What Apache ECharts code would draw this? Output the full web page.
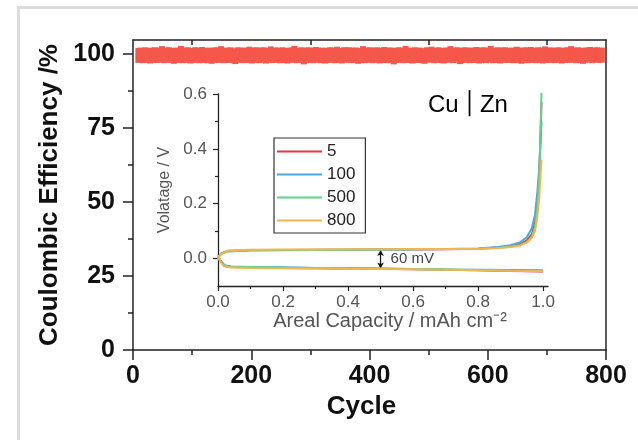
<!DOCTYPE html>
<html><head><meta charset="utf-8">
<script src="https://cdn.jsdelivr.net/npm/echarts@6/dist/echarts.min.js"></script>
<style>html,body{margin:0;padding:0;background:#fff}#c{width:638px;height:440px}</style>
</head><body><div id="c"></div>
<script>
// ---------- main panel data: Coulombic efficiency (%) sampled every 4 cycles from cycle 9 ----------
const ceCycleStart = 9;
const ceCycleStep = 4;
const ceValues = [
  99.5, 99.6, 99.4, 99.7, 99.5, 99.3, 99.6, 99.7, 99.5, 99.6, 100.1, 99.4, 99.6, 99.7, 99.5, 99.2, 99.6, 99.5, 100.2, 99.4,
  99.6, 99.7, 99.3, 99.5, 99.7, 99.6, 99.4, 99.8, 99.5, 99.4, 99.6, 99.2, 99.6, 99.7, 99.5, 100.1, 99.4, 99.6, 99.5, 99.7,
  99.4, 99.1, 99.7, 99.6, 99.4, 99.6, 99.5, 99.9, 99.3, 99.6, 99.7, 99.4, 99.6, 99.7, 99.3, 99.5, 100.0, 99.5, 99.6, 99.6,
  99.4, 99.7, 99.5, 99.3, 99.6, 99.6, 100.2, 99.4, 99.5, 99.7, 99.0, 99.6, 99.7, 99.5, 99.4, 99.8, 99.6, 99.4, 99.6, 99.3,
  99.5, 99.7, 99.6, 99.4, 99.9, 99.5, 99.3, 99.7, 99.6, 99.7, 99.4, 99.6, 99.6, 99.2, 99.5, 100.1, 99.4, 99.6, 99.7, 99.4,
  99.6, 99.7, 99.3, 99.5, 99.8, 99.4, 99.6, 99.6, 99.0, 99.5, 99.7, 99.6, 99.4, 100.2, 99.5, 99.6, 99.3, 99.7, 99.5, 99.6,
  99.4, 99.2, 99.7, 99.6, 99.9, 99.4, 99.5, 99.7, 99.5, 99.3, 99.6, 99.6, 100.1, 99.4, 99.6, 99.7, 99.1, 99.5, 99.7, 99.6,
  99.4, 99.6, 99.5, 99.8, 99.3, 99.6, 99.7, 99.4, 99.6, 100.2, 99.4, 99.5, 99.7, 99.3, 99.6, 99.7, 99.5, 99.5, 99.6, 99.4,
  99.9, 99.6, 99.2, 99.6, 99.7, 99.4, 99.8, 99.5, 99.4, 99.7, 99.6, 99.3, 100.0, 99.5, 99.6, 99.6, 99.4, 99.6, 99.7, 99.3,
  99.5, 99.7, 99.5, 100.1, 99.6, 99.4, 99.7, 99.5, 99.2, 99.6, 99.6, 99.8, 99.4, 99.6, 99.7, 99.5, 99.6
];
const mainXTopTicks = [100, 300, 500, 700];
const mainYTicks = [0, 25, 50, 75, 100];
const mainYMinorTicks = [12.5, 37.5, 62.5, 87.5];

// ---------- inset data: voltage profiles (V) vs areal capacity (mAh cm-2) ----------
const insetCycles = ['5', '100', '500', '800'];
const plateCap = [0, 0.01, 0.02, 0.04, 0.1, 0.2, 0.3, 0.4, 0.5, 0.6, 0.7, 0.8, 0.9, 1.0];
const stripCap = [0, 0.01, 0.03, 0.1, 0.2, 0.3, 0.4, 0.5, 0.6, 0.7, 0.8, 0.86, 0.9, 0.93, 0.95, 0.965, 0.975, 0.982, 0.988, 0.992, 0.995];
const plate5   = [0.004, -0.012, -0.026, -0.031, -0.032, -0.034, -0.035, -0.036, -0.037, -0.039, -0.041, -0.043, -0.045, -0.047];
const plate100 = [0.006, -0.010, -0.024, -0.029, -0.031, -0.032, -0.034, -0.035, -0.036, -0.038, -0.040, -0.041, -0.042, -0.043];
const plate500 = [0.005, -0.014, -0.027, -0.030, -0.031, -0.033, -0.034, -0.036, -0.037, -0.038, -0.040, -0.042, -0.044, -0.045];
const plate800 = [0.005, -0.016, -0.029, -0.033, -0.034, -0.035, -0.036, -0.037, -0.038, -0.039, -0.041, -0.043, -0.044, -0.046];
const strip5   = [0.004, 0.018, 0.028, 0.031, 0.031, 0.032, 0.032, 0.033, 0.033, 0.034, 0.036, 0.040, 0.045, 0.053, 0.066, 0.088, 0.13, 0.20, 0.31, 0.45, 0.57];
const strip100 = [0.006, 0.019, 0.027, 0.030, 0.031, 0.031, 0.032, 0.033, 0.034, 0.035, 0.037, 0.042, 0.049, 0.060, 0.078, 0.11, 0.16, 0.24, 0.33, 0.42, 0.50];
const strip500 = [0.005, 0.017, 0.026, 0.029, 0.030, 0.031, 0.032, 0.033, 0.034, 0.035, 0.036, 0.039, 0.043, 0.050, 0.061, 0.080, 0.115, 0.18, 0.29, 0.46, 0.605];
const strip800 = [0.005, 0.016, 0.029, 0.032, 0.033, 0.033, 0.034, 0.034, 0.035, 0.035, 0.036, 0.038, 0.042, 0.048, 0.058, 0.075, 0.10, 0.15, 0.22, 0.30, 0.36];
const insetXTicks = [0, 0.2, 0.4, 0.6, 0.8, 1.0];
const insetXMinor = [0.1, 0.3, 0.5, 0.7, 0.9];
const insetYTicks = [0, 0.2, 0.4, 0.6];
const insetYMinor = [0.1, 0.3, 0.5];
const overpotentialTop = 0.031, overpotentialBottom = -0.036, overpotentialAt = 0.5;

// ---------- build ----------
const FONT = 'Liberation Sans, Arial, sans-serif';
const ceData = ceValues.map((v, i) => [ceCycleStart + i * ceCycleStep, v]);
function profile(plateV, stripV) {
  const d = [];
  for (let i = plateCap.length - 1; i >= 0; i--) d.push([plateCap[i], plateV[i]]);
  for (let i = 1; i < stripCap.length; i++) d.push([stripCap[i], stripV[i]]);
  return d;
}
const profiles = [profile(plate5, strip5), profile(plate100, strip100), profile(plate500, strip500), profile(plate800, strip800)];
const insetColors = ['#e8343a', '#4aa8dc', '#63d08c', '#f0b650'];

const axisDark = { onZero: false, lineStyle: { color: '#222', width: 1.5 } };
const insetLine = { onZero: false, lineStyle: { color: '#222', width: 1.3 } };
const mainLabel = { color: '#111', fontSize: 25, fontWeight: 'bold', fontFamily: FONT };
const insetLabel = { color: '#555', fontSize: 17, fontFamily: FONT };

const chart = echarts.init(document.getElementById('c'), null, { renderer: 'canvas' });
const insetSeries = insetCycles.map((name, k) => {
  const s = {
    name: name, type: 'line', xAxisIndex: 2, yAxisIndex: 3, data: profiles[k],
    showSymbol: false, symbol: 'none', lineStyle: { width: 2, color: insetColors[k] },
    itemStyle: { color: insetColors[k] }, z: 5 + k, animation: false
  };
  if (k === insetCycles.length - 1) {
    s.markLine = {
      silent: true, symbol: ['arrow', 'arrow'], symbolSize: [5, 6],
      lineStyle: { color: '#111', width: 1.2, type: 'solid' }, label: { show: false },
      data: [[{ coord: [overpotentialAt, overpotentialTop] }, { coord: [overpotentialAt, overpotentialBottom] }]]
    };
    s.markPoint = {
      silent: true, symbol: 'circle', symbolSize: 0.1,
      label: { show: true, position: 'right', distance: 10, formatter: '60 mV', color: '#444', fontSize: 15, fontFamily: FONT },
      data: [{ coord: [overpotentialAt, (overpotentialTop + overpotentialBottom) / 2] }]
    };
  }
  return s;
});

chart.setOption({
  animation: false,
  backgroundColor: '#fff',
  textStyle: { fontFamily: FONT },
  grid: [
    { left: 133, top: 40, right: 32, bottom: 90 },
    { left: 218, top: 94, width: 330, height: 192 }
  ],
  xAxis: [
    { type: 'value', gridIndex: 0, position: 'bottom', min: 0, max: 800, interval: 200,
      axisLine: axisDark, splitLine: { show: false },
      axisTick: { show: true, length: 10, lineStyle: { color: '#222', width: 1.5 } },
      minorTick: { show: true, splitNumber: 2, length: 5, lineStyle: { color: '#222', width: 1.5 } },
      axisLabel: Object.assign({ margin: 14 }, mainLabel),
      name: 'Cycle', nameLocation: 'middle', nameGap: 42,
      nameTextStyle: { color: '#111', fontSize: 26, fontWeight: 'bold', fontFamily: FONT, padding: [0, 16, 0, 0] } },
    { type: 'value', gridIndex: 0, position: 'top', min: 0, max: 800,
      axisLine: axisDark, splitLine: { show: false }, axisLabel: { show: false },
      axisTick: { show: true, inside: true, length: 5, customValues: mainXTopTicks, lineStyle: { color: '#222', width: 1.5 } } },
    { type: 'value', gridIndex: 1, position: 'bottom', min: 0, max: 1.015,
      axisLine: insetLine, splitLine: { show: false },
      axisTick: { show: true, length: 5, customValues: insetXTicks, lineStyle: { color: '#222', width: 1.2 } },
      axisLabel: Object.assign({ margin: 8, customValues: insetXTicks, formatter: v => v.toFixed(1) }, insetLabel),
      name: 'Areal Capacity / mAh cm⁻²', nameLocation: 'middle', nameGap: 23,
      nameTextStyle: { color: '#555', fontSize: 20, fontFamily: FONT, padding: [0, 0, 0, 14] } },
    { type: 'value', gridIndex: 1, position: 'bottom', min: 0, max: 1.015,
      axisLine: { show: false, onZero: false }, splitLine: { show: false }, axisLabel: { show: false },
      axisTick: { show: true, length: 3, customValues: insetXMinor, lineStyle: { color: '#222', width: 1.2 } } }
  ],
  yAxis: [
    { type: 'value', gridIndex: 0, position: 'left', min: 0, max: 104.7,
      axisLine: axisDark, splitLine: { show: false },
      axisTick: { show: true, length: 10, customValues: mainYTicks, lineStyle: { color: '#222', width: 1.5 } },
      axisLabel: Object.assign({ margin: 18, customValues: mainYTicks }, mainLabel),
      name: 'Coulombic Efficiency /%', nameLocation: 'middle', nameGap: 60,
      nameTextStyle: { color: '#111', fontSize: 26, fontWeight: 'bold', fontFamily: FONT } },
    { type: 'value', gridIndex: 0, position: 'left', min: 0, max: 104.7,
      axisLine: { show: false, onZero: false }, splitLine: { show: false }, axisLabel: { show: false },
      axisTick: { show: true, length: 5, customValues: mainYMinorTicks, lineStyle: { color: '#222', width: 1.5 } } },
    { type: 'value', gridIndex: 0, position: 'right', min: 0, max: 104.7,
      axisLine: axisDark, splitLine: { show: false }, axisLabel: { show: false }, axisTick: { show: false } },
    { type: 'value', gridIndex: 1, position: 'left', min: -0.1, max: 0.6,
      axisLine: insetLine, splitLine: { show: false },
      axisTick: { show: true, length: 5, customValues: insetYTicks, lineStyle: { color: '#222', width: 1.2 } },
      axisLabel: Object.assign({ margin: 11, customValues: insetYTicks, formatter: v => v.toFixed(1) }, insetLabel),
      name: 'Volatage / V', nameLocation: 'middle', nameGap: 44,
      nameTextStyle: { color: '#555', fontSize: 16, fontFamily: FONT } },
    { type: 'value', gridIndex: 1, position: 'left', min: -0.1, max: 0.6,
      axisLine: { show: false, onZero: false }, splitLine: { show: false }, axisLabel: { show: false },
      axisTick: { show: true, length: 3, customValues: insetYMinor, lineStyle: { color: '#222', width: 1.2 } } }
  ],
  legend: {
    data: insetCycles, orient: 'vertical', left: 274, top: 138,
    icon: 'rect', itemWidth: 45, itemHeight: 2, itemGap: 6, itemTextGap: 6,
    padding: [5, 10, 4, 3], borderColor: '#333', borderWidth: 1.2, backgroundColor: '#fff',
    textStyle: { color: '#222', fontSize: 17, fontFamily: FONT }, selectedMode: false
  },
  graphic: [
    { type: 'rect', silent: true, z: -10, shape: { x: 18.5, y: 7.5, width: 700, height: 500 },
      style: { fill: 'none', stroke: '#dcdcdc', lineWidth: 3 } },
    { type: 'text', silent: true, left: 428, top: 93, z: 20,
      style: { text: '{a|Cu}{b|│}{a|Zn}', rich: {
        a: { fontSize: 24, color: '#111', fontFamily: FONT },
        b: { fontSize: 22, color: '#6a6078', fontFamily: 'DejaVu Sans', padding: [0, 4, 0, 4] } } } }
  ],
  series: [
    { name: 'CE', type: 'scatter', xAxisIndex: 0, yAxisIndex: 0, data: ceData,
      symbol: 'rect', symbolSize: [6, 15], itemStyle: { color: '#f5574a', opacity: 1 }, z: 2 }
  ].concat(insetSeries)
});
</script></body></html>
